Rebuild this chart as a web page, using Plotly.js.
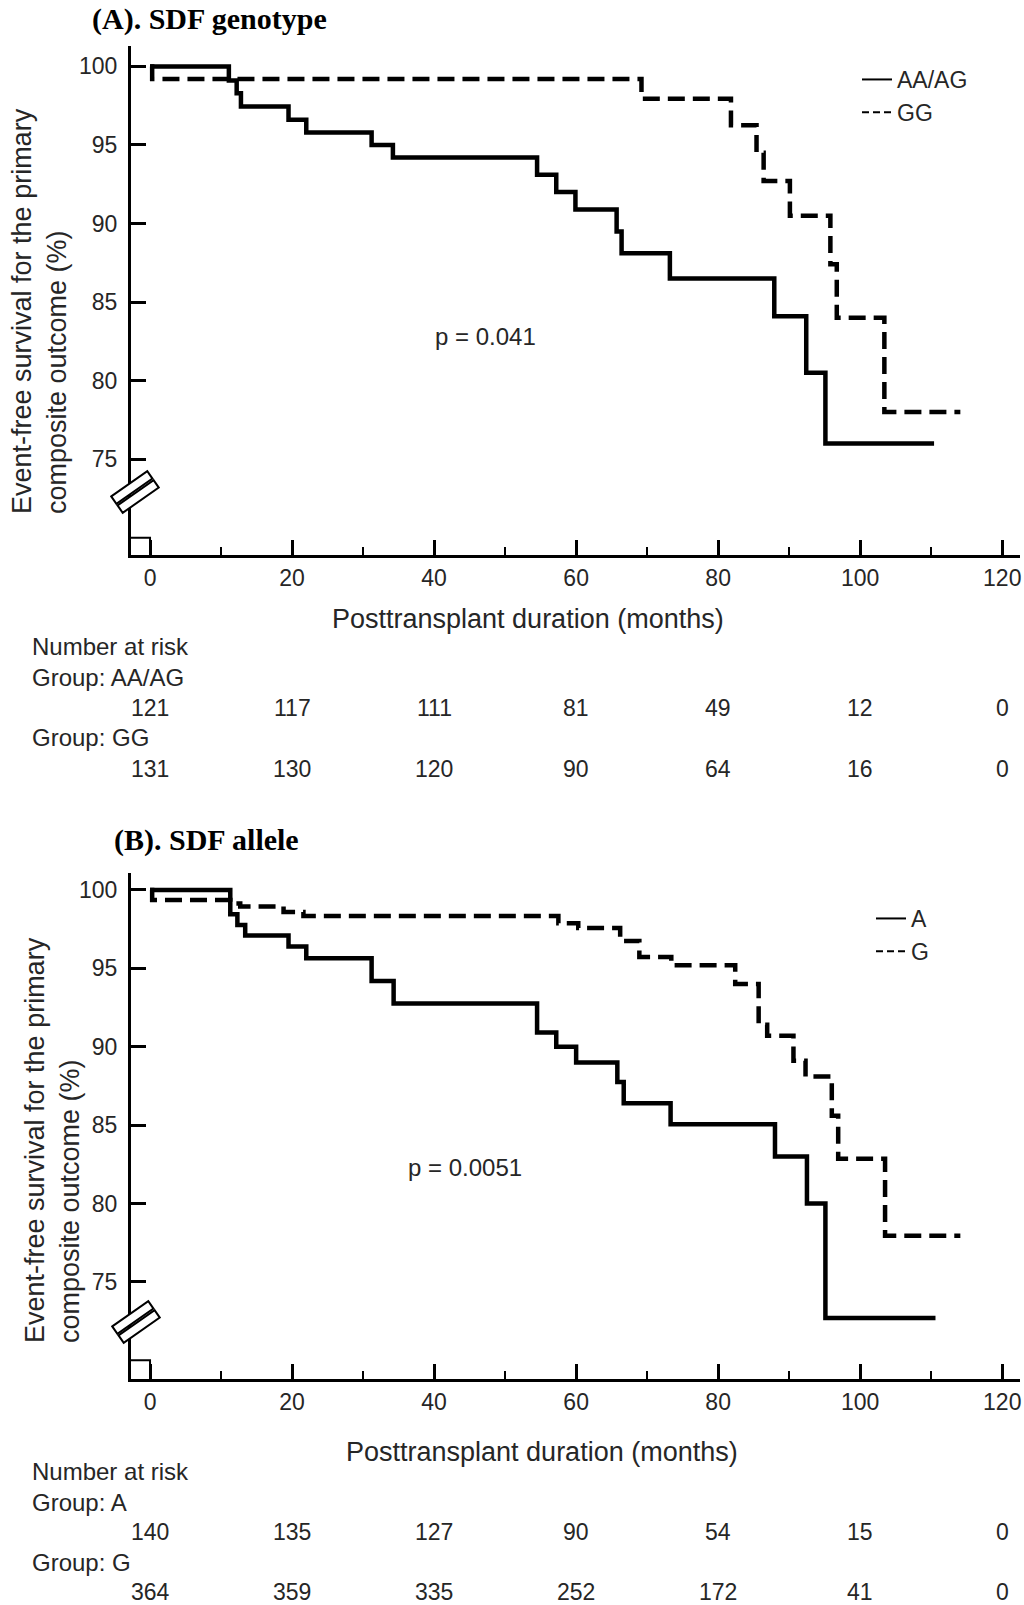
<!DOCTYPE html>
<html>
<head>
<meta charset="utf-8">
<script src="https://cdn.plot.ly/plotly-3.0.1.min.js"></script>
<style>
  html, body { margin: 0; padding: 0; background: #fff; }
  #km { width: 1024px; height: 1605px; }
</style>
</head>
<body>
<div id="km"></div>
<script>
// (A) SDF genotype - step curves, months vs event-free survival (%)
const timeAAAG = [0, 11.1, 12.2, 12.8, 19.5, 22, 31.2, 34.2, 54.5, 57.2, 59.9, 65.7, 66.4, 73.2, 87.9, 92.4, 95.1, 110.4];
const survAAAG = [100, 99.1, 98.3, 97.45, 96.6, 95.8, 95.0, 94.2, 93.1, 92.0, 90.9, 89.5, 88.1, 86.5, 84.1, 80.5, 76.0, 76.0];
const timeGG = [0, 0.3, 69.2, 81.8, 85.4, 86.4, 90.1, 95.8, 96.7, 103.4, 114.1];
const survGG = [100, 99.2, 97.95, 96.25, 94.5, 92.7, 90.5, 87.4, 84.0, 78.0, 78.0];

// (B) SDF allele
const timeA = [0, 11.3, 12.3, 13.4, 19.5, 22, 31.2, 34.3, 54.5, 57.2, 60, 65.8, 66.7, 73.3, 88, 92.5, 95.1, 110.6];
const survA = [100, 98.45, 97.77, 97.1, 96.4, 95.65, 94.2, 92.75, 90.9, 90.0, 89.0, 87.75, 86.4, 85.05, 83.0, 80.0, 72.7, 72.7];
const timeG = [0, 0.3, 11.3, 12.7, 18.8, 21.6, 57.5, 60.3, 66.2, 68.9, 73.4, 82.4, 85.7, 86.9, 90.6, 92.3, 96, 96.9, 103.5, 114.1];
const survG = [100, 99.36, 99.13, 98.95, 98.6, 98.33, 97.88, 97.58, 96.75, 95.73, 95.19, 94.0, 91.4, 90.7, 89.1, 88.1, 85.6, 82.85, 77.95, 77.95];

// number at risk
const riskTimes = [0, 20, 40, 60, 80, 100, 120];
const riskAAAG = [121, 117, 111, 81, 49, 12, 0];
const riskGG = [131, 130, 120, 90, 64, 16, 0];
const riskA = [140, 135, 127, 90, 54, 15, 0];
const riskG = [364, 359, 335, 252, 172, 41, 0];

const xTicks = [0, 20, 40, 60, 80, 100, 120];
const yTicks = [75, 80, 85, 90, 95, 100];

const W = 1024, H = 1605;
const SANS = "Liberation Sans, Arial, sans-serif";
const SERIF = "Liberation Serif, Times New Roman, serif";
const TXT = "#262626";
const px = (v) => v / W;
const py = (v) => 1 - v / H;

function curve(x, y, xa, ya, dash){
  return {
    x: x, y: y, xaxis: xa, yaxis: ya,
    mode: "lines",
    line: { shape: "hv", color: "black", width: 4.5, dash: dash },
    showlegend: false,
    hoverinfo: "skip"
  };
}

function key(name, dash, leg){
  return {
    x: [null], y: [null], name: name,
    mode: "lines",
    line: { color: "black", width: 2, dash: dash },
    legend: leg,
    hoverinfo: "skip"
  };
}

const data = [
  curve(timeAAAG, survAAAG, "x", "y", "solid"),
  curve(timeGG, survGG, "x", "y", "17px,8px"),
  curve(timeA, survA, "x2", "y2", "solid"),
  curve(timeG, survG, "x2", "y2", "17px,8px"),
  key("AA/AG", "solid", "legend"),
  key("GG", "7px,4px", "legend"),
  key("A", "solid", "legend2"),
  key("G", "7px,4px", "legend2")
];

function xAxis(anchor){
  return {
    domain: [px(131), px(1020)], range: [-2.68, 122.5], anchor: anchor,
    tickvals: xTicks, ticks: "inside", ticklen: 15, tickwidth: 3, tickcolor: "black",
    minor: { ticks: "inside", dtick: 10, tick0: 0, ticklen: 8, tickwidth: 2, tickcolor: "black" },
    showline: true, linewidth: 3, linecolor: "black",
    showgrid: false, zeroline: false, fixedrange: true,
    ticklabelstandoff: 0,
    tickfont: { family: SANS, size: 23, color: TXT }
  };
}

function yAxis(anchor, top, bottom, range){
  return {
    domain: [py(bottom), py(top)], range: range, anchor: anchor,
    tickvals: yTicks, ticks: "inside", ticklen: 15, tickwidth: 3, tickcolor: "black",
    showline: true, linewidth: 3, linecolor: "black",
    showgrid: false, zeroline: false, fixedrange: true,
    ticklabelstandoff: 6,
    tickfont: { family: SANS, size: 23, color: TXT }
  };
}

function ann(text, x, y, opts){
  return Object.assign({
    text: text, x: px(x), y: py(y), xref: "paper", yref: "paper",
    showarrow: false, xanchor: "center", yanchor: "middle",
    font: { family: SANS, size: 24, color: TXT }
  }, opts || {});
}

function riskRow(vals, xref, y){
  return vals.map((v, i) => ({
    text: String(v), x: riskTimes[i], xref: xref, y: py(y), yref: "paper",
    showarrow: false, xanchor: "center", yanchor: "middle",
    font: { family: SANS, size: 23, color: TXT }
  }));
}

// axis break mark: two slanted white boxes over the y axis
function breakMark(cx, cy){
  const th = 35 * Math.PI / 180;
  const u = [Math.cos(th), -Math.sin(th)];
  const n = [Math.sin(th), Math.cos(th)];
  const L = 44, w = 9, off = 5.5;
  const out = [];
  [-off, off].forEach((o) => {
    const c = [cx + n[0] * o, cy + n[1] * o];
    const pts = [[-1, -1], [1, -1], [1, 1], [-1, 1]].map(([a, b]) => [
      c[0] + u[0] * a * L / 2 + n[0] * b * w / 2,
      c[1] + u[1] * a * L / 2 + n[1] * b * w / 2
    ]);
    const path = pts.map((p, i) => (i ? "L" : "M") + px(p[0]).toFixed(5) + "," + py(p[1]).toFixed(5)).join(" ") + " Z";
    out.push({
      type: "path", path: path, xref: "paper", yref: "paper",
      fillcolor: "white", line: { color: "black", width: 2 }, layer: "above"
    });
  });
  return out;
}

const shapes = [
  { type: "path", path: "M -2.68,70 H 0 V 68.9", xref: "x", yref: "y", line: { color: "black", width: 2 } },
  { type: "path", path: "M -2.68,70 H 0 V 68.81", xref: "x2", yref: "y2", line: { color: "black", width: 2 } }
].concat(breakMark(135, 492), breakMark(136, 1322));

const yTitle = "Event-free survival for the primary<br>composite outcome (%)";

const annotations = [
  ann("<b>(A). SDF genotype</b>", 90, 19, { xanchor: "left", font: { family: SERIF, size: 30, color: "black" } }),
  ann("<b>(B). SDF allele</b>", 112, 840, { xanchor: "left", font: { family: SERIF, size: 30, color: "black" } }),
  ann(yTitle, 40, 311, { textangle: -90, align: "left", font: { family: SANS, size: 27, color: TXT } }),
  ann(yTitle, 52, 1140, { textangle: -90, align: "left", font: { family: SANS, size: 27, color: TXT } }),
  ann("p = 0.041", 485, 336),
  ann("p = 0.0051", 465, 1167),
  ann("Posttransplant duration (months)", 528, 619, { font: { family: SANS, size: 27, color: TXT } }),
  ann("Posttransplant duration (months)", 542, 1452, { font: { family: SANS, size: 27, color: TXT } }),
  ann("Number at risk", 30, 646, { xanchor: "left" }),
  ann("Group: AA/AG", 30, 677, { xanchor: "left" }),
  ann("Group: GG", 30, 738, { xanchor: "left" }),
  ann("Number at risk", 30, 1471, { xanchor: "left" }),
  ann("Group: A", 30, 1502, { xanchor: "left" }),
  ann("Group: G", 30, 1562, { xanchor: "left" })
].concat(
  riskRow(riskAAAG, "x", 708),
  riskRow(riskGG, "x", 769),
  riskRow(riskA, "x2", 1532),
  riskRow(riskG, "x2", 1592)
);

const legendStyle = {
  xanchor: "left", yanchor: "top",
  font: { family: SANS, size: 23, color: TXT },
  bgcolor: "rgba(0,0,0,0)", borderwidth: 0, tracegroupgap: 0
};

const layout = {
  width: W, height: H,
  margin: { l: 0, r: 0, t: 0, b: 0 },
  paper_bgcolor: "white", plot_bgcolor: "white",
  showlegend: true,
  legend: Object.assign({ x: px(857), y: py(58) }, legendStyle),
  legend2: Object.assign({ x: px(871), y: py(897) }, legendStyle),
  xaxis: xAxis("y"),
  yaxis: yAxis("x", 46, 555, [68.9, 101.3]),
  xaxis2: xAxis("y2"),
  yaxis2: yAxis("x2", 873, 1379, [68.81, 101.08]),
  shapes: shapes,
  annotations: annotations
};

Plotly.newPlot("km", data, layout, { staticPlot: true, displayModeBar: false });
</script>
</body>
</html>
